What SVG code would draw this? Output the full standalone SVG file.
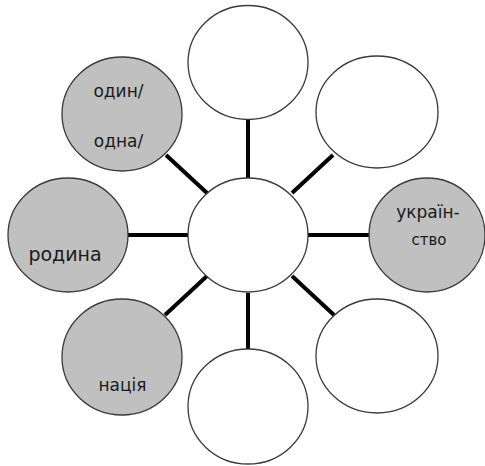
<svg xmlns="http://www.w3.org/2000/svg" width="485" height="466" viewBox="0 0 485 466">
  <style>
    .node { stroke: #3a3a3a; stroke-width: 1.3; }
    .blank { fill: #ffffff; }
    .shaded { fill: #c0c0c0; }
    .link { stroke: #000000; stroke-width: 4; stroke-linecap: butt; }
    .label { font-family: "DejaVu Sans", Verdana, sans-serif; font-size: 17px; fill: #1a1a1a; text-anchor: middle; }
  </style>
  <rect width="485" height="466" fill="#ffffff"/>

  <!-- spokes from the hub to each satellite -->
  <g id="connectors">
    <line class="link" x1="248" y1="119" x2="248" y2="178"/>
    <line class="link" x1="166" y1="155" x2="207" y2="193"/>
    <line class="link" x1="333" y1="155" x2="292" y2="193"/>
    <line class="link" x1="128" y1="235" x2="188" y2="235"/>
    <line class="link" x1="308" y1="235" x2="369" y2="235"/>
    <line class="link" x1="207" y1="276" x2="165" y2="315"/>
    <line class="link" x1="248" y1="293" x2="248" y2="349"/>
    <line class="link" x1="292" y1="276" x2="334" y2="315"/>
  </g>

  <g id="hub">
    <ellipse class="node blank" cx="248" cy="235" rx="60" ry="57"/>
  </g>

  <g id="node-top">
    <ellipse class="node blank" cx="248" cy="62.5" rx="60" ry="57"/>
  </g>

  <g id="node-top-right">
    <ellipse class="node blank" cx="377" cy="112" rx="61" ry="56"/>
  </g>

  <g id="node-right">
    <ellipse class="node shaded" cx="427" cy="235" rx="58" ry="57"/>
    <text class="label" x="428" y="218">україн-</text>
    <text class="label" x="429" y="245" style="font-size:15px">ство</text>
  </g>

  <g id="node-bottom-right">
    <ellipse class="node blank" cx="377" cy="356" rx="61" ry="57"/>
  </g>

  <g id="node-bottom">
    <ellipse class="node blank" cx="248" cy="406.5" rx="60" ry="57.5"/>
  </g>

  <g id="node-bottom-left">
    <ellipse class="node shaded" cx="122" cy="357" rx="60" ry="58"/>
    <text class="label" x="122.5" y="391">нація</text>
  </g>

  <g id="node-left">
    <ellipse class="node shaded" cx="68" cy="235" rx="60" ry="57"/>
    <text class="label" x="65" y="261" style="font-size:19px">родина</text>
  </g>

  <g id="node-top-left">
    <ellipse class="node shaded" cx="122" cy="114" rx="60" ry="57"/>
    <text class="label" x="118.5" y="97">один/</text>
    <text class="label" x="118.5" y="147">одна/</text>
  </g>
</svg>
